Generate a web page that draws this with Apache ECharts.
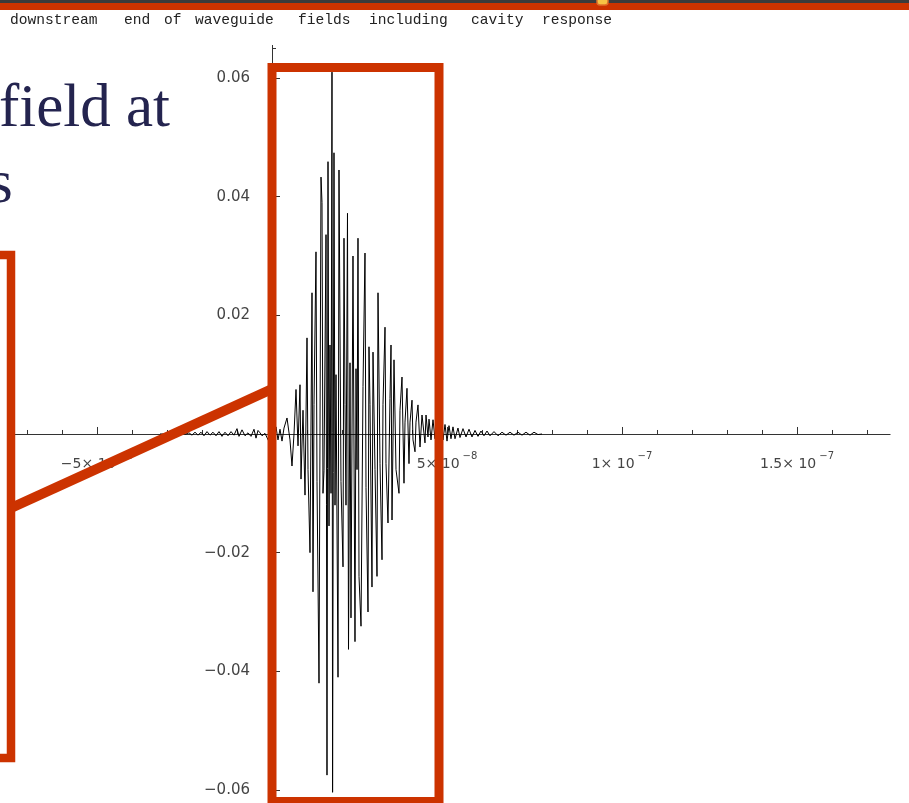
<!DOCTYPE html>
<html>
<head>
<meta charset="utf-8">
<title>downstream end of waveguide fields including cavity response</title>
<script src="https://cdn.jsdelivr.net/npm/echarts@6/dist/echarts.min.js"></script>
<style>
  html, body { margin: 0; padding: 0; background: #ffffff; }
  #chart { width: 909px; height: 803px; }
</style>
</head>
<body>
<div id="chart"></div>
<script>
// Sample times (ns) and field amplitude at the downstream end of the waveguide
const timeNs = [
  -32.0, -24.6, -23.71, -22.86, -22.0, -21.14, -20.29, -19.43, -18.57, -17.71,
  -16.86, -16.0, -15.14, -14.29, -13.43, -12.57, -11.71, -10.86, -10.0, -9.43,
  -8.57, -7.71, -6.86, -6.0, -5.14, -4.57, -4.0, -3.43, -2.86, -2.0,
  -0.86, 0.0, 0.57, 1.14, 1.71, 2.29, 2.86, 3.43, 4.29, 4.86,
  5.14, 5.71, 6.29, 6.86, 7.43, 8.0, 8.29, 8.86, 9.43, 10.0,
  10.29, 10.86, 11.43, 11.71, 12.0, 12.57, 12.86, 13.43, 14.0, 14.29,
  14.57, 14.86, 15.43, 15.71, 16.0, 16.29, 16.57, 16.86, 17.14, 17.31,
  17.71, 18.0, 18.29, 18.86, 19.14, 19.71, 20.29, 20.57, 20.86, 21.14,
  21.57, 21.86, 22.29, 22.57, 23.14, 23.71, 24.0, 24.29, 24.57, 24.86,
  25.43, 26.0, 26.57, 26.86, 27.43, 27.71, 28.0, 28.57, 28.86, 29.43,
  30.0, 30.29, 30.86, 31.43, 31.71, 32.29, 32.57, 33.14, 33.71, 34.0,
  34.29, 34.86, 35.43, 36.29, 36.57, 37.14, 37.71, 38.0, 38.57, 39.14,
  39.43, 40.0, 40.29, 40.86, 41.14, 41.71, 42.29, 42.86, 43.71, 44.0,
  44.57, 44.86, 45.43, 46.0, 46.57, 47.14, 47.71, 48.29, 48.86, 49.43,
  50.0, 50.57, 51.14, 51.71, 52.29, 53.14, 53.71, 54.57, 55.43, 56.29,
  57.14, 58.0, 58.86, 59.71, 60.57, 61.43, 62.29, 63.43, 64.57, 65.71,
  66.86, 68.0, 69.14, 70.29, 71.43, 72.57, 73.71, 74.86, 76.0, 77.14
];
const field = [
  0, 0, 0.0002, -0.0002, 0.0003, -0.0002, 0.0003, -0.0003, 0.0004, -0.0002,
  0.0003, -0.0003, 0.0004, -0.0004, 0.0003, -0.0003, 0.0004, -0.0002, 0.0009, -0.0004,
  0.0007, -0.0003, 0.0002, -0.0004, 0.0008, -0.0007, 0.0006, 0.0002, -0.0003, 0.0001,
  -0.0013, 0.0002, -0.0006, 0.0012, -0.0010, 0.0008, -0.0012, 0.0010, 0.0027, 0.0024,
  -0.0010, -0.0054, 0.0000, 0.0075, -0.0020, 0.0083, -0.0076, 0.0040, -0.0103, 0.0162,
  -0.0060, -0.0200, 0.0238, -0.0266, 0.0050, 0.0307, -0.0080, -0.0420, 0.0433, 0.0390,
  -0.0100, -0.0062, 0.0336, -0.0575, 0.0459, -0.0155, 0.0150, -0.0100, 0.0610, -0.0604,
  0.0474, -0.0120, 0.0100, -0.0410, 0.0445, -0.0080, -0.0224, 0.0330, 0.0050, -0.0120,
  0.0372, -0.0363, 0.0120, -0.0310, 0.0300, -0.0350, 0.0110, -0.0060, 0.0330, -0.0240,
  -0.0324, 0.0080, 0.0305, -0.0090, -0.0300, 0.0147, 0.0050, -0.0258, 0.0138, -0.0060,
  -0.0240, 0.0238, -0.0050, -0.0212, 0.0050, 0.0180, -0.0050, -0.0150, 0.0060, 0.0150,
  -0.0145, 0.0125, -0.0060, -0.0100, 0.0040, 0.0096, -0.0083, 0.0020, 0.0077, -0.0050,
  0.0020, 0.0057, -0.0010, -0.0030, 0.0020, 0.0049, -0.0022, 0.0032, -0.0015, 0.0032,
  -0.0005, 0.0025, -0.0010, 0.0024, -0.0008, 0.0020, -0.0012, 0.0022, -0.0010, 0.0016,
  -0.0012, 0.0014, -0.0008, 0.0012, -0.0008, 0.0010, -0.0006, 0.0009, -0.0005, 0.0008,
  -0.0005, 0.0006, -0.0004, 0.0005, -0.0003, 0.0005, -0.0003, 0.0004, -0.0003, 0.0003,
  -0.0002, 0.0003, -0.0002, 0.0003, -0.0002, 0.0003, -0.0002, 0.0003, -0.0001, 0
];

// Axis ticks (seconds / field units) and their labels
const xTickValues = [-5e-8, 5e-8, 1e-7, 1.5e-7];
const xTickMantissa = ['\u22125', '5', '1', '1.5'];
const xTickExponent = ['\u22128', '\u22128', '\u22127', '\u22127'];
const xMinorTicks = [-7e-8, -6e-8, -5e-8, -4e-8, -3e-8, -2e-8, -1e-8, 1e-8, 2e-8, 3e-8, 4e-8,
  5e-8, 6e-8, 7e-8, 8e-8, 9e-8, 1e-7, 1.1e-7, 1.2e-7, 1.3e-7, 1.4e-7, 1.5e-7, 1.6e-7, 1.7e-7];
const yTickValues = [-0.06, -0.04, -0.02, 0.02, 0.04, 0.06];
const yTickLabels = ['\u22120.06', '\u22120.04', '\u22120.02', '0.02', '0.04', '0.06'];
const yMinorTicks = [-0.06, -0.055, -0.05, -0.045, -0.04, -0.035, -0.03, -0.025, -0.02, -0.015,
  -0.01, -0.005, 0.005, 0.01, 0.015, 0.02, 0.025, 0.03, 0.035, 0.04, 0.045, 0.05, 0.055, 0.06, 0.065];

const plotLabelWords = ['downstream', 'end', 'of', 'waveguide', 'fields', 'including', 'cavity', 'response'];
const headingLines = ['field at', 's'];

// Plot ranges
const xMin = -7.5e-8, xMax = 1.766e-7;
const yMin = -0.0622, yMax = 0.0655;

// Layout: plot area and where the axes cross (t = 0, E = 0)
const W = 909, H = 803;
const gridLeft = 9.5, gridRight = 18.9, gridTop = 45.4, gridBottom = 0;
const plotW = W - gridLeft - gridRight, plotH = H - gridTop - gridBottom;
const zeroX = gridLeft + plotW * (0 - xMin) / (xMax - xMin);
const zeroY = gridTop + plotH * (yMax - 0) / (yMax - yMin);
const xAxisOffset = zeroY - (H - gridBottom);   // negative: lift the bottom axis up to E = 0
const yAxisOffset = gridLeft - zeroX;           // negative: push the left axis right to t = 0

const axisColor = '#333333';
const labelColor = '#444444';
const tickFont = 'DejaVu Sans';
const slideRed = '#cc3300';

function findIndex(list, v, eps) {
  for (let i = 0; i < list.length; i++) if (Math.abs(list[i] - Number(v)) < eps) return i;
  return -1;
}

const seriesData = timeNs.map((t, i) => [t * 1e-9, field[i]]);

// Word positions for the plot label along the top
const wordX = [10, 124, 164, 195, 298, 369, 471, 542];
const wordElements = plotLabelWords.map((w, i) => ({
  type: 'text', z: 120,
  style: {
    text: w, x: wordX[i], y: 20,
    font: '14.6px "Liberation Mono"', fill: '#222222',
    align: 'left', verticalAlign: 'middle'
  }
}));

const chart = echarts.init(document.getElementById('chart'), null, { renderer: 'canvas' });
chart.setOption({
  animation: false,
  backgroundColor: '#ffffff',
  grid: { left: gridLeft, right: gridRight, top: gridTop, bottom: gridBottom, containLabel: false, outerBoundsMode: 'none' },
  xAxis: [{
    type: 'value', min: xMin, max: xMax, position: 'bottom', offset: xAxisOffset,
    axisLine: { show: true, onZero: false, lineStyle: { color: axisColor, width: 1 } },
    axisTick: { show: true, inside: true, length: 7, customValues: xTickValues, lineStyle: { color: axisColor } },
    axisLabel: {
      show: true, customValues: xTickValues, margin: 17,
      formatter: function (v) {
        const i = findIndex(xTickValues, v, 1e-12);
        if (i < 0) return '';
        return '{m|' + xTickMantissa[i] + '\u00d7 10}{e|' + xTickExponent[i] + '}';
      },
      rich: {
        m: { fontFamily: tickFont, fontSize: 14, color: labelColor, lineHeight: 20, verticalAlign: 'bottom' },
        e: { fontFamily: tickFont, fontSize: 10, color: labelColor, lineHeight: 12, verticalAlign: 'top', padding: [0, 0, 0, 3] }
      }
    },
    splitLine: { show: false }
  }, {
    type: 'value', min: xMin, max: xMax, position: 'bottom', offset: xAxisOffset,
    axisLine: { show: false, onZero: false },
    axisTick: { show: true, inside: true, length: 4, customValues: xMinorTicks, lineStyle: { color: axisColor } },
    axisLabel: { show: false },
    splitLine: { show: false }
  }],
  yAxis: [{
    type: 'value', min: yMin, max: yMax, position: 'left', offset: yAxisOffset,
    axisLine: { show: true, onZero: false, lineStyle: { color: axisColor, width: 1 } },
    axisTick: { show: true, inside: true, length: 8, customValues: yTickValues, lineStyle: { color: axisColor } },
    axisLabel: {
      show: true, customValues: yTickValues, margin: 22,
      fontFamily: tickFont, fontSize: 15, color: labelColor,
      formatter: function (v) {
        const i = findIndex(yTickValues, v, 1e-9);
        return i < 0 ? '' : yTickLabels[i];
      }
    },
    splitLine: { show: false }
  }, {
    type: 'value', min: yMin, max: yMax, position: 'left', offset: yAxisOffset,
    axisLine: { show: false, onZero: false },
    axisTick: { show: true, inside: true, length: 4, customValues: yMinorTicks, lineStyle: { color: axisColor } },
    axisLabel: { show: false },
    splitLine: { show: false }
  }],
  series: [{
    type: 'line', xAxisIndex: 0, yAxisIndex: 0,
    data: seriesData, showSymbol: false, symbol: 'none',
    lineStyle: { color: '#000000', width: 1 },
    clip: true, z: 3
  }],
  graphic: [
    // slide header bands
    { type: 'rect', z: 110, shape: { x: 0, y: 0, width: W, height: 3 }, style: { fill: '#3b3b3b' } },
    { type: 'rect', z: 110, shape: { x: 0, y: 3, width: W, height: 7 }, style: { fill: slideRed } },
    { type: 'rect', z: 111, shape: { x: 597, y: -5, width: 11, height: 10, r: 3 }, style: { fill: '#f6c445', stroke: '#e0702a', lineWidth: 1.5 } },
    ...wordElements,
    // slide heading fragments
    { type: 'text', z: 105, style: { text: headingLines[0], x: -1, y: 110, font: '61px "Liberation Serif"', fill: '#24244f', align: 'left', verticalAlign: 'middle' } },
    { type: 'text', z: 105, style: { text: headingLines[1], x: -11, y: 186, font: '61px "Liberation Serif"', fill: '#24244f', align: 'left', verticalAlign: 'middle' } },
    // highlight boxes and connector
    { type: 'rect', z: 130, shape: { x: 272, y: 67.5, width: 167, height: 734 }, style: { fill: 'transparent', stroke: slideRed, lineWidth: 9 } },
    { type: 'rect', z: 130, shape: { x: -30, y: 255, width: 41, height: 503 }, style: { fill: 'transparent', stroke: slideRed, lineWidth: 8.5 } },
    { type: 'line', z: 130, shape: { x1: 11, y1: 508, x2: 272, y2: 389 }, style: { stroke: slideRed, lineWidth: 10 } }
  ]
});
</script>
</body>
</html>
